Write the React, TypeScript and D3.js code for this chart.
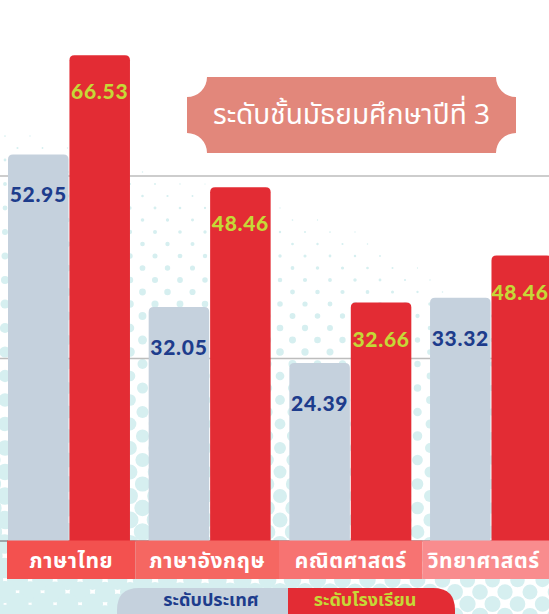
import React from "react";
import * as d3 from "d3";

const categories = ["ภาษาไทย", "ภาษาอังกฤษ", "คณิตศาสตร์", "วิทยาศาสตร์"];
const seriesNames = ["ระดับประเทศ", "ระดับโรงเรียน"];
const nationalValues = [52.95, 32.05, 24.39, 33.32];
// bar heights as drawn in the picture
const schoolValues = [66.53, 48.46, 32.66, 39.1];
// value labels as printed in the picture
const schoolLabels = ["66.53", "48.46", "32.66", "48.46"];
const gridTicks = [25, 50];
const title = "ระดับชั้นมัธยมศึกษาปีที่ 3";

const W = 549;
const H = 614;
const GRAY = "#c5d1dd";
const RED = "#e32c34";
const BLUE = "#1d3c8c";
const LIME = "#c6d837";
const DOT = "#d6eff0";
const bandColors = ["#f3514f", "#f56762", "#f77372", "#f98c8e"];
const THAI = "'Noto Sans Thai', 'Noto Sans Thai UI', 'Noto Sans', 'DejaVu Sans', sans-serif";
const NUM = "Lato, 'Noto Sans', sans-serif";

function ticketPath(x0: number, y0: number, x1: number, y1: number, r: number) {
  return [
    `M${x0 + r},${y0}`,
    `L${x1 - r},${y0}`,
    `A${r},${r} 0 0 0 ${x1},${y0 + r}`,
    `L${x1},${y1 - r}`,
    `A${r},${r} 0 0 0 ${x1 - r},${y1}`,
    `L${x0 + r},${y1}`,
    `A${r},${r} 0 0 0 ${x0},${y1 - r}`,
    `L${x0},${y0 + r}`,
    `A${r},${r} 0 0 0 ${x0 + r},${y0}`,
    "Z",
  ].join(" ");
}

function topRounded(x: number, y: number, w: number, h: number, r: number) {
  return `M${x},${y + h} L${x},${y + r} Q${x},${y} ${x + r},${y} L${x + w - r},${y} Q${x + w},${y} ${x + w},${y + r} L${x + w},${y + h} Z`;
}

export default function App() {
  const y = d3.scaleLinear().domain([0, 50]).range([541, 176]);
  const x = d3
    .scaleBand<string>()
    .domain(categories)
    .range([8, 552])
    .paddingInner(0.133)
    .paddingOuter(0);
  const xs = d3
    .scaleBand<string>()
    .domain(seriesNames)
    .range([0, x.bandwidth()])
    .paddingInner(0.015);
  const xl = d3.scaleBand<string>().domain(categories).range([-8, 566]);

  // halftone background
  const dots: { cx: number; cy: number; r: number }[] = [];
  const stepX = 25;
  const stepY = 12;
  for (let row = 0; row * stepY < H + 20; row++) {
    const cy = 580 - stepY * Math.round(580 / stepY) + row * stepY;
    const off = row % 2 === 0 ? 17.5 : 5;
    for (let cx = off - 25; cx < W + 25; cx += stepX) {
      let r = 0.022 * cy - 0.0065 * cx - 2.1;
      if (cx > 360 && cy < 300) r -= ((cx - 360) / 190) * 1.5;
      r = Math.min(r, 11.2);
      if (r > 0.6) dots.push({ cx, cy, r });
    }
  }

  const legendY = 588;
  const legendSplit = 288;

  return (
    <svg
      width={W}
      height={H}
      style={{ position: "absolute", left: 0, top: 0, background: "#fff" }}
    >
      <rect x={0} y={0} width={W} height={H} fill="#fff" />
      <g>
        {dots.map((d, i) => (
          <circle key={i} cx={d.cx} cy={d.cy} r={d.r} fill={DOT} />
        ))}
      </g>
      <g>
        {gridTicks.map((t) => (
          <line
            key={t}
            x1={0}
            x2={W}
            y1={y(t)}
            y2={y(t)}
            stroke="#bdbdbd"
            strokeWidth={1.6}
          />
        ))}
        <line x1={0} x2={W} y1={y(0)} y2={y(0)} stroke="#8a8f94" strokeWidth={1.5} />
      </g>
      <g>
        {categories.map((c, i) => {
          const gx = x(c)!;
          const nx = gx + xs(seriesNames[0])!;
          const sx = gx + xs(seriesNames[1])!;
          const bw = xs.bandwidth();
          const ny = y(nationalValues[i]);
          const sy = y(schoolValues[i]);
          return (
            <g key={c}>
              <path d={topRounded(nx, ny, bw, y(0) - ny, 5)} fill={GRAY} />
              <path d={topRounded(sx, sy, bw, y(0) - sy, 5)} fill={RED} />
              <text
                x={nx + bw / 2}
                y={ny + 48}
                textAnchor="middle"
                fontFamily={NUM}
                fontWeight={900}
                fontSize={21}
                letterSpacing={0.7}
                fill={BLUE}
              >
                {nationalValues[i].toFixed(2)}
              </text>
              <text
                x={Math.min(sx + bw / 2, W - 29)}
                y={sy + 44}
                textAnchor="middle"
                fontFamily={NUM}
                fontWeight={900}
                fontSize={21}
                letterSpacing={0.7}
                fill={LIME}
              >
                {schoolLabels[i]}
              </text>
            </g>
          );
        })}
      </g>
      <g>
        {categories.map((c, i) => {
          const x0 = Math.max(7, xl(c)!);
          const x1 = xl(c)! + xl.bandwidth();
          return (
            <g key={c}>
              <rect x={x0} y={540.5} width={x1 - x0} height={38.5} fill={bandColors[i]} />
              <text
                x={(x0 + Math.min(x1, W)) / 2 + (i === 3 ? -2 : 0)}
                y={568}
                textAnchor="middle"
                fontFamily={THAI}
                fontWeight={700}
                fontSize={21}
                letterSpacing={0.6}
                fill="#fff"
              >
                {c}
              </text>
            </g>
          );
        })}
      </g>
      <g>
        <path
          d={`M${legendSplit},${legendY} L${legendSplit},${H + 20} L117,${H + 20} L117,${legendY + 22} Q117,${legendY} 139,${legendY} Z`}
          fill={GRAY}
        />
        <path
          d={`M${legendSplit},${legendY} L433,${legendY} Q455,${legendY} 455,${legendY + 22} L455,${H + 20} L${legendSplit},${H + 20} Z`}
          fill={RED}
        />
        <text
          x={211}
          y={606}
          textAnchor="middle"
          fontFamily={THAI}
          fontWeight={700}
          fontSize={18}
          fill={BLUE}
        >
          {seriesNames[0]}
        </text>
        <text
          x={365}
          y={606}
          textAnchor="middle"
          fontFamily={THAI}
          fontWeight={700}
          fontSize={18}
          fill={LIME}
        >
          {seriesNames[1]}
        </text>
      </g>
      <g>
        <path d={ticketPath(187, 77, 516, 153, 20)} fill="#e2877b" />
        <text
          x={351.5}
          y={124}
          textAnchor="middle"
          fontFamily={THAI}
          fontWeight={400}
          fontSize={28}
          fill="#fff"
        >
          {title}
        </text>
      </g>
    </svg>
  );
}
